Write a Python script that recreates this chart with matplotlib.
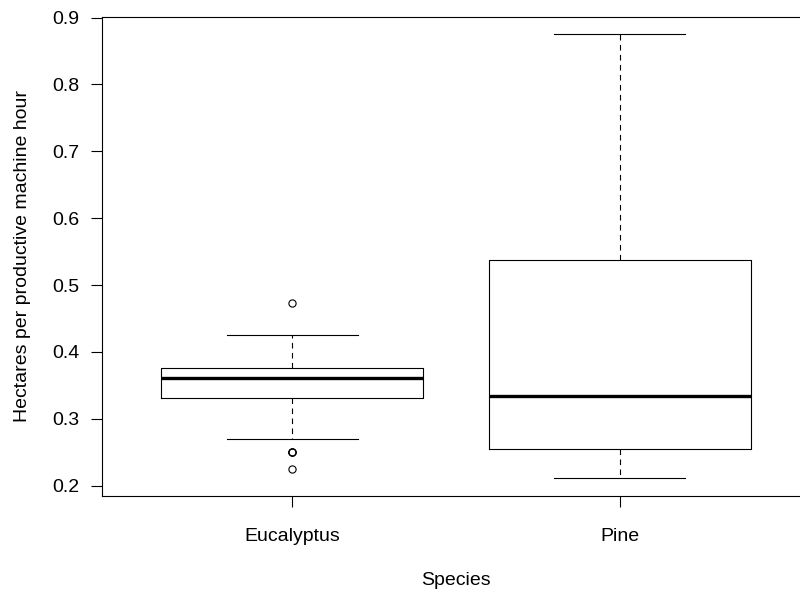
import matplotlib
matplotlib.use("Agg")
import matplotlib.pyplot as plt

# Summary statistics per species (hectares per productive machine hour)
species = ["Eucalyptus", "Pine"]
whisker_low = [0.269, 0.211]
q1 = [0.331, 0.254]
median = [0.361, 0.334]
q3 = [0.376, 0.538]
whisker_high = [0.425, 0.875]
outliers = [[0.473, 0.250, 0.250, 0.250, 0.225], []]

plt.rcParams["font.family"] = ["Liberation Sans", "DejaVu Sans"]

W, H = 800, 592
fig = plt.figure(figsize=(W / 100, H / 100), dpi=100)

# plot region in pixels (right edge runs a little past the figure, like the R device)
left, right, top, bottom = 102, 810, 16.5, 496
ax = fig.add_axes([left / W, 1 - bottom / H, (right - left) / W, (bottom - top) / H])

stats = []
for i, name in enumerate(species):
    stats.append({
        "label": name,
        "whislo": whisker_low[i],
        "q1": q1[i],
        "med": median[i],
        "q3": q3[i],
        "whishi": whisker_high[i],
        "fliers": outliers[i],
    })

ax.bxp(
    stats,
    positions=[1, 2],
    widths=0.8,
    capwidths=0.4,
    showfliers=True,
    boxprops=dict(color="black", linewidth=0.8),
    medianprops=dict(color="black", linewidth=2.4, solid_capstyle="butt"),
    whiskerprops=dict(color="black", linewidth=0.8, linestyle=(0, (5, 4))),
    capprops=dict(color="black", linewidth=0.8),
    flierprops=dict(marker="o", markerfacecolor="none", markeredgecolor="black",
                    markersize=5.2, markeredgewidth=0.8),
)

# R-style axis extents: 4% padding around the data range
lo = min(min(whisker_low), min(min(o) for o in outliers if o))
hi = max(max(whisker_high), max(max(o) for o in outliers if o))
pad = 0.04 * (hi - lo)
ax.set_ylim(lo - pad, hi + pad)
ax.set_xlim(0.42, 2.58)

ax.set_yticks([0.2, 0.3, 0.4, 0.5, 0.6, 0.7, 0.8, 0.9])
ax.set_yticklabels(["0.2", "0.3", "0.4", "0.5", "0.6", "0.7", "0.8", "0.9"])
ax.set_xticks([1, 2])
ax.set_xticklabels(species)

for s in ax.spines.values():
    s.set_linewidth(0.8)
    s.set_color("black")

ax.tick_params(axis="both", direction="out", length=8, width=0.8, colors="black",
               labelsize=14)
ax.tick_params(axis="y", pad=8.5)
ax.tick_params(axis="x", pad=15)

ax.set_xlabel("Species", fontsize=14)
ax.set_ylabel("Hectares per productive machine hour", fontsize=14)
ax.xaxis.set_label_coords(0.5, -(572 - bottom) / (bottom - top))
ax.yaxis.set_label_coords(-(left - 31) / (right - left), 0.5)

fig.savefig("out.png", dpi=100)
